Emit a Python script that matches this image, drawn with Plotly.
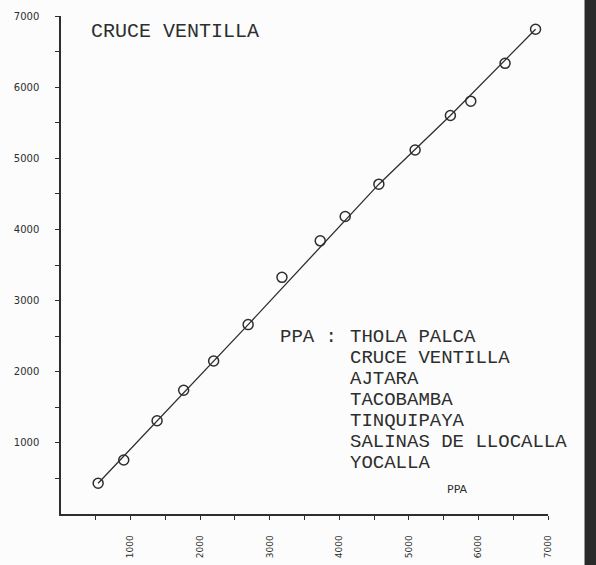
import plotly.graph_objects as go

# Double-mass data: accumulated PPA (x) vs accumulated CRUCE VENTILLA (y)
ppa_acum = [534, 902, 1381, 1763, 2194, 2690, 3176, 3726, 4085, 4569, 5090, 5597, 5890, 6383, 6821]
estacion_acum = [432, 759, 1311, 1739, 2151, 2662, 3327, 3840, 4182, 4636, 5117, 5602, 5803, 6335, 6813]

# Fitted line vertices (as drawn)
linea_x = [534, 2690, 4569, 5597, 6821]
linea_y = [432, 2662, 4636, 5602, 6813]

tick_vals = [1000, 2000, 3000, 4000, 5000, 6000, 7000]
tick_text = ["1000", "2000", "3000", "4000", "5000", "6000", "7000"]
minor_vals = [500, 1500, 2500, 3500, 4500, 5500, 6500]

estaciones = ["THOLA PALCA", "CRUCE VENTILLA", "AJTARA", "TACOBAMBA",
              "TINQUIPAYA", "SALINAS DE LLOCALLA", "YOCALLA"]

ink = "#2e2e2e"
W, H = 596, 565
L, R, T, B = 61, 48, 16, 51
plot_h = H - T - B
plot_w = W - L - R

def py(p):  # pixel y -> paper
    return (H - B - p) / plot_h

def px(p):  # pixel x -> paper
    return (p - L) / plot_w

fig = go.Figure()
fig.add_trace(go.Scatter(x=linea_x, y=linea_y, mode="lines",
                         line=dict(color=ink, width=1.3), hoverinfo="skip",
                         showlegend=False))
fig.add_trace(go.Scatter(x=ppa_acum, y=estacion_acum, mode="markers",
                         marker=dict(symbol="circle-open", size=10,
                                     line=dict(color=ink, width=1.5), color=ink),
                         showlegend=False))

axis_common = dict(
    range=[0, 7000], showgrid=False, zeroline=False, automargin=False,
    showline=True, linecolor=ink, linewidth=1.5,
    ticks="outside", ticklen=4, tickcolor=ink, tickwidth=1.3,
    tickvals=tick_vals, ticktext=tick_text,
    minor=dict(tickvals=minor_vals,
               ticks="outside", ticklen=4, tickcolor=ink, tickwidth=1.3),
)

fig.update_xaxes(**axis_common, tickangle=-90,
                 tickfont=dict(family="DejaVu Sans", size=9, color=ink),
                 ticklabelstandoff=12)
fig.update_yaxes(**axis_common,
                 tickfont=dict(family="DejaVu Sans", size=10, color=ink),
                 ticklabelstandoff=14)

mono = dict(family="Liberation Mono", size=19, color=ink)
ann = []
ann.append(dict(x=px(89), y=py(32), xref="paper", yref="paper", text="CRUCE VENTILLA",
                showarrow=False, xanchor="left", yanchor="middle",
                font=dict(family="Liberation Mono", size=20, color=ink)))
ann.append(dict(x=px(279), y=py(337), xref="paper", yref="paper", text="PPA :",
                showarrow=False, xanchor="left", yanchor="middle", font=mono,
                borderpad=0))
for i, name in enumerate(estaciones):
    ann.append(dict(x=px(349), y=py(337 + 21 * i), xref="paper", yref="paper", text=name,
                    showarrow=False, xanchor="left", yanchor="middle", font=mono,
                    borderpad=0))
ann.append(dict(x=px(457), y=py(489), xref="paper", yref="paper", text="PPA",
                showarrow=False, xanchor="center", yanchor="middle",
                font=dict(family="DejaVu Sans", size=11, color=ink)))

fig.update_layout(
    width=W, height=H,
    margin=dict(l=L, r=R, t=T, b=B, pad=0),
    paper_bgcolor="#fbfcfb", plot_bgcolor="#fbfcfb",
    annotations=ann,
    shapes=[dict(type="rect", xref="paper", yref="paper",
                 x0=1.075, x1=1.2, y0=-0.2, y1=1.2,
                 fillcolor="#2a2a2a", opacity=1, line=dict(width=0), layer="above")],
)

post = ("document.documentElement.style.margin='0';"
        "document.body.style.margin='0';"
        "document.documentElement.style.overflow='hidden';"
        "document.body.style.overflow='hidden';")
fig.write_html("out.html", config={"displayModeBar": False}, post_script=post)
